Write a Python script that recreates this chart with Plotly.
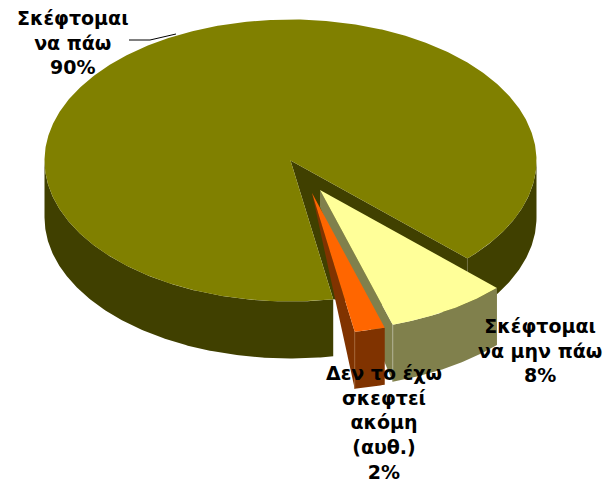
import numpy as np
import plotly.graph_objects as go

# Data
labels = ["Σκέφτομαι<br>να μην πάω", "Δεν το έχω<br>σκεφτεί<br>ακόμη<br>(αυθ.)", "Σκέφτομαι<br>να πάω"]
values = [8, 2, 90]
top_colors = ["#FFFF99", "#FF6600", "#808000"]
side_colors = ["#80804C", "#803300", "#404000"]

# Pie geometry (pixels of a 610x479 canvas)
W, H = 610, 479
CX, CY, RX, RY, DEPTH = 290.5, 160.5, 246, 141, 57
START = 134.0
explode = [(29.5, 29.5), (21.5, 32.5), (0, 0)]
label_pos = [(540, 313), (384, 360), (73, 5)]
FS = 19


def pt(a, dx=0, dy=0, depth=0):
    r = np.radians(a)
    return CX + dx + RX * np.sin(r), CY + dy - RY * np.cos(r) + depth


def arc(a0, a1, dx=0, dy=0, depth=0):
    n = max(int(abs(a1 - a0)) * 2, 2)
    return pt(np.linspace(a0, a1, n), dx, dy, depth)


fig = go.Figure()


def poly(xs, ys, color):
    fig.add_trace(go.Scatter(x=list(xs), y=list(ys), mode="lines", fill="toself",
                             fillcolor=color, line=dict(width=0, color=color),
                             hoverinfo="skip", showlegend=False))


def seam(a, dx, dy, color):
    x, y = pt(a, dx, dy)
    fig.add_trace(go.Scatter(x=[x, x], y=[y, y + DEPTH], mode="lines",
                             line=dict(width=1, color=color),
                             hoverinfo="skip", showlegend=False))


# cumulative angles
angles = START + np.concatenate([[0], np.cumsum(values)]) * 3.6
a_y0, a_y1, a_o1, a_b1 = angles

# big slice: outer wall (lower half), cut wall, top
bx0, by0 = arc(a_o1, 270)
bx1, by1 = arc(270, a_o1, depth=DEPTH)
poly(np.r_[bx0, bx1], np.r_[by0, by1], side_colors[2])
rx0, ry0 = arc(90, a_y0)
rx1, ry1 = arc(a_y0, 90, depth=DEPTH)
poly(np.r_[rx0, rx1], np.r_[ry0, ry1], side_colors[2])
# cut wall behind the pulled-out slices
c1 = pt(a_y0)
c2 = pt(a_o1)
poly([CX, c1[0], c1[0], c2[0], CX], [CY, c1[1], c1[1] + DEPTH, c2[1], CY], side_colors[2])
tx, ty = arc(a_o1, a_b1)
poly(np.r_[CX, tx, CX], np.r_[CY, ty, CY], top_colors[2])
seam(a_y0, 0, 0, "#6E6E40")

# yellow slice
dx, dy = explode[0]
ox, oy = arc(a_y0, a_y1, dx, dy)
ox2, oy2 = arc(a_y1, a_y0, dx, dy, DEPTH)
poly(np.r_[ox, ox2], np.r_[oy, oy2], side_colors[0])
e = pt(a_y1, dx, dy)
ax, ay = CX + dx, CY + dy
poly([ax, ax, e[0], e[0], ax], [ay, ay + DEPTH * 0.3, e[1] + DEPTH, e[1], ay], side_colors[0])
poly(np.r_[ax, ox, ax], np.r_[ay, oy, ay], top_colors[0])
seam(a_y1, dx, dy, "#B0B090")

# orange slice
dx, dy = explode[1]
ax, ay = CX + dx, CY + dy
ox, oy = arc(a_y1, a_o1, dx, dy)
ox2, oy2 = arc(a_o1, a_y1, dx, dy, DEPTH)
e = pt(a_o1, dx, dy)
poly([ax, e[0], e[0], ax], [ay, e[1], e[1] + DEPTH, ay], side_colors[1])
poly(np.r_[ox, ox2], np.r_[oy, oy2], side_colors[1])
poly(np.r_[ax, ox, ax], np.r_[ay, oy, ay], top_colors[1])
seam(a_o1, dx, dy, "#A06030")

# leader line of the big slice
lead_x = [129, 150, 176]
lead_y = [40, 40, 34]
fig.add_trace(go.Scatter(x=lead_x, y=lead_y, mode="lines", line=dict(width=1, color="black"),
                         hoverinfo="skip", showlegend=False))

for lab, val, (x, y) in zip(labels, values, label_pos):
    fig.add_annotation(x=x, y=y, text=f"<b>{lab}<br>{val}%</b>", showarrow=False,
                       xanchor="center", yanchor="top", align="center",
                       font=dict(family="DejaVu Sans", size=FS, color="black"))

fig.update_layout(width=W, height=H, margin=dict(l=0, r=0, t=0, b=0), autosize=False,
                  paper_bgcolor="white", plot_bgcolor="white", showlegend=False,
                  xaxis=dict(range=[0, W], visible=False, fixedrange=True),
                  yaxis=dict(range=[H, 0], visible=False, fixedrange=True))
fig.write_html("out.html", config={"displayModeBar": False},
               post_script="document.body.style.margin='0';document.body.style.overflow='hidden';")
